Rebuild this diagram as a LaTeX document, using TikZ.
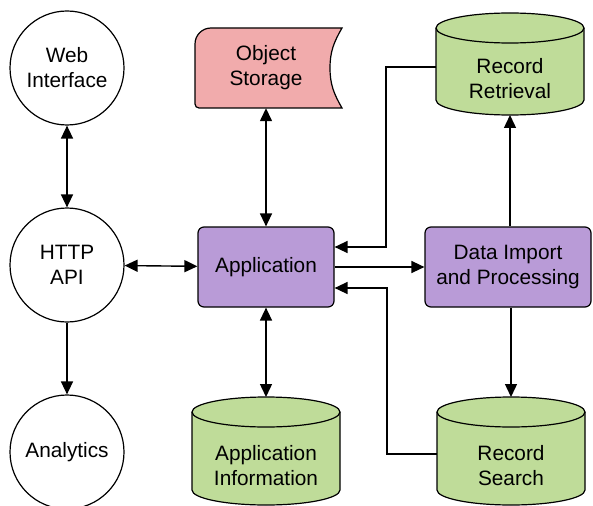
\documentclass[tikz,border=0pt]{standalone}
\usepackage{fontspec}
\setmainfont{Liberation Sans}
\usetikzlibrary{arrows.meta}

\definecolor{appfill}{RGB}{185,155,215}
\definecolor{storefill}{RGB}{241,171,172}
\definecolor{dbfill}{RGB}{191,220,153}

% cylinder: name, x centre, top, bottom, text
\newcommand{\database}[5]{%
  \filldraw[fill=dbfill, line width=1.2pt] ({#2-74},{#3+15}) -- ({#2-74},{#4-15})
    arc[start angle=180, end angle=360, x radius=74pt, y radius=15pt]
    -- ({#2+74},{#3+15})
    arc[start angle=0, end angle=180, x radius=74pt, y radius=15pt] -- cycle;
  \draw[line width=1.2pt] ({#2-74},{#3+15}) arc[start angle=180, end angle=360, x radius=74pt, y radius=15pt];
  \coordinate (#1-top) at (#2,#3);
  \coordinate (#1-bot) at (#2,#4);
  \node[txt, minimum width=148pt] (#1) at (#2,{(#3+30+#4)/2}) {#5};
}

\begin{document}
\begin{tikzpicture}[x=1pt, y=-1pt,
    txt/.style={align=center, inner sep=0pt, font=\fontsize{20.8}{25}\selectfont},
    circ/.style={txt, circle, draw, line width=1.2pt, minimum size=114pt},
    box/.style={txt, draw, line width=1.2pt, rounded corners=6pt, fill=appfill, minimum height=80pt},
    arr/.style={line width=1.4pt, -{Triangle[length=13pt,width=12pt]}},
    dbl/.style={line width=1.4pt, {Triangle[length=13pt,width=12pt]}-{Triangle[length=13pt,width=12pt]}}]
  \useasboundingbox (0,0) rectangle (593,505);

  % clients on the left
  \node[circ] (web) at (67,68) {Web\\Interface};
  \node[circ] (http) at (67,265) {HTTP\\API};
  \node[circ] (analytics) at (67,452) {Analytics};

  % core boxes
  \node[box, minimum width=136pt] (app) at (266,267) {Application};
  \node[box, minimum width=166pt] (dip) at (508,267) {Data Import\\and Processing};

  % object storage
  \filldraw[fill=storefill, line width=1.2pt] (342,28) -- (211,28) to[out=180,in=90] (195,44)
    -- (195,104) to[out=-90,in=180] (199,108) -- (342,108)
    to[out=120,in=-90] (330,68) to[out=90,in=-120] (342,28) -- cycle;
  \node[txt, minimum width=148pt, minimum height=80pt] (os) at (266,68) {Object\\Storage};

  % databases
  \database{rr}{510}{13}{115}{Record\\Retrieval}
  \database{rs}{511}{397}{505}{Record\\Search}
  \database{ai}{266}{397}{505}{Application\\Information}

  % connectors
  \draw[dbl] (web) -- (http);
  \draw[arr] (http) -- (analytics);
  \draw[dbl] (http) -- (app);
  \draw[dbl] (os) -- (app);
  \draw[dbl] (app) -- (ai-top);
  \draw[arr] (app) -- (dip);
  \draw[arr] (dip.north -| rr-bot) -- (rr-bot);
  \draw[arr] (dip.south -| rs-top) -- (rs-top);
  \draw[arr] ([yshift=12pt]rr.west) -- ++(-50,0) |- ([yshift=20pt]app.east);
  \draw[arr] ([yshift=12pt]rs.west) -- ++(-50,0) |- ([yshift=-21pt]app.east);
\end{tikzpicture}
\end{document}
